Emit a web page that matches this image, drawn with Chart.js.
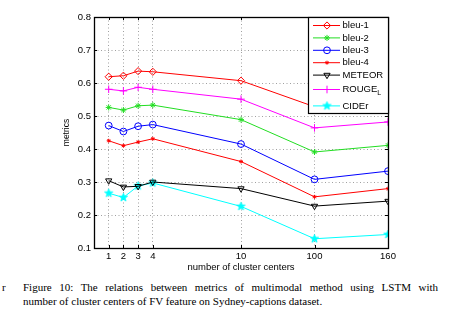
<!DOCTYPE html>
<html>
<head>
<meta charset="utf-8">
<script src="https://cdn.jsdelivr.net/npm/chart.js@4/dist/chart.umd.min.js"></script>
<style>
  html, body { margin: 0; padding: 0; background: #fff; width: 450px; height: 330px; overflow: hidden; }
  #wrap { position: absolute; left: 0; top: 0; width: 450px; height: 275px; }
  .cap { position: absolute; font-family: "Liberation Serif", "Times New Roman", serif; font-size: 11px; color: #000; white-space: nowrap; }
  #l1 { left: 23px; top: 281px; width: 415px; text-align: justify; text-align-last: justify; white-space: normal; }
  #l2 { left: 23px; top: 295px; }
  #frag { left: 2px; top: 281px; }
</style>
</head>
<body>
<div id="wrap"><canvas id="c" width="450" height="275"></canvas></div>
<div class="cap" id="frag">r</div>
<div class="cap" id="l1">Figure 10: The relations between metrics of multimodal method using LSTM with</div>
<div class="cap" id="l2">number of cluster centers of FV feature on Sydney-captions dataset.</div>
<script>
// ---- data ----
const clusterCenters = ["1", "2", "3", "4", "10", "100", "160"];   // tick labels
const axisSlots = [1, 2, 3, 4, 10, 15, 20];                           // where each label sits on the axis
const seriesNames = ["bleu-1", "bleu-2", "bleu-3", "bleu-4", "METEOR", "ROUGE_L", "CIDEr"];
const bleu1  = [0.619, 0.622, 0.636, 0.634, 0.607, 0.528, 0.531];
const bleu2  = [0.526, 0.518, 0.531, 0.533, 0.489, 0.391, 0.411];
const bleu3  = [0.471, 0.453, 0.469, 0.474, 0.415, 0.308, 0.333];
const bleu4  = [0.425, 0.410, 0.421, 0.431, 0.362, 0.255, 0.280];
const meteor = [0.304, 0.285, 0.287, 0.300, 0.280, 0.227, 0.242];
const rougeL = [0.581, 0.576, 0.587, 0.581, 0.551, 0.464, 0.482];
const cider  = [0.266, 0.253, 0.288, 0.297, 0.226, 0.128, 0.141];
const yTicks = [0.1, 0.2, 0.3, 0.4, 0.5, 0.6, 0.7, 0.8];

// pentagram marker
function makeStar(color, r) {
  const s = Math.ceil(r * 2 + 2);
  const cv = document.createElement('canvas');
  cv.width = s; cv.height = s;
  const g = cv.getContext('2d');
  g.beginPath();
  for (let i = 0; i < 10; i++) {
    const rad = (i % 2 === 0) ? r : r * 0.42;
    const a = -Math.PI / 2 + i * Math.PI / 5;
    const px = s / 2 + rad * Math.cos(a), py = s / 2 + rad * Math.sin(a);
    if (i === 0) g.moveTo(px, py); else g.lineTo(px, py);
  }
  g.closePath();
  g.fillStyle = color; g.fill();
  g.strokeStyle = color; g.lineWidth = 0.8; g.stroke();
  return cv;
}
const starImg = makeStar('#00ffff', 4.4);

const pts = arr => arr.map((v, i) => ({ x: axisSlots[i], y: v }));
const styles = [
  { c: '#ff0000', ps: 'rectRot', r: 3.6, fill: false, rot: 0 },
  { c: '#22dd22', ps: 'star', r: 3, fill: true, rot: 0 },
  { c: '#0000ff', ps: 'circle', r: 3.4, fill: false, rot: 0 },
  { c: '#ff0000', ps: 'star', r: 2, fill: true, rot: 0 },
  { c: '#000000', ps: 'triangle', r: 3.6, fill: false, rot: 180 },
  { c: '#ff00ff', ps: 'cross', r: 3.8, fill: false, rot: 0 },
  { c: '#00ffff', ps: starImg, r: 4.4, fill: true, rot: 0 }
];
const values = [bleu1, bleu2, bleu3, bleu4, meteor, rougeL, cider];
const datasets = values.map((arr, k) => ({
  label: seriesNames[k],
  data: pts(arr),
  borderColor: styles[k].c,
  backgroundColor: styles[k].c,
  borderWidth: 1,
  pointStyle: styles[k].ps,
  pointRadius: styles[k].r,
  pointHoverRadius: styles[k].r,
  pointRotation: styles[k].rot,
  pointBorderColor: styles[k].c,
  pointBackgroundColor: styles[k].fill ? styles[k].c : 'rgba(0,0,0,0)',
  pointBorderWidth: 1,
  tension: 0,
  fill: false
}));

const FONT = '"Liberation Sans", Arial, sans-serif';

const framePlugin = {
  id: 'frame',
  afterDatasetsDraw(chart) {
    const { ctx, chartArea: a, scales } = chart;
    ctx.save();
    // inward tick marks
    ctx.strokeStyle = '#000'; ctx.lineWidth = 1;
    ctx.beginPath();
    yTicks.forEach(v => {
      const y = Math.round(scales.y.getPixelForValue(v)) + 0.5;
      ctx.moveTo(a.left, y); ctx.lineTo(a.left + 3, y);
      ctx.moveTo(a.right, y); ctx.lineTo(a.right - 3, y);
    });
    axisSlots.forEach(v => {
      const x = Math.round(scales.x.getPixelForValue(v)) + 0.5;
      ctx.moveTo(x, a.bottom); ctx.lineTo(x, a.bottom - 3);
      ctx.moveTo(x, a.top); ctx.lineTo(x, a.top + 3);
    });
    ctx.stroke();
    // box
    ctx.lineWidth = 1.3;
    ctx.strokeRect(Math.round(a.left) + 0.5, Math.round(a.top) + 0.5, Math.round(a.right - a.left), Math.round(a.bottom - a.top));

    // legend
    const lx = 308, ly = 17, lw = 80, lh = 96;
    ctx.fillStyle = '#fff';
    ctx.fillRect(lx, ly, lw, lh);
    ctx.lineWidth = 1.2;
    ctx.strokeStyle = '#000';
    ctx.strokeRect(lx + 0.5, ly + 0.5, lw, lh);
    ctx.font = '9.5px ' + FONT;
    ctx.textBaseline = 'middle';
    ctx.textAlign = 'left';
    seriesNames.forEach((name, i) => {
      const y = 25.5 + i * 12.4 + (i >= 5 ? 2 : 0) + (i >= 6 ? 4 : 0);
      const st = styles[i];
      ctx.strokeStyle = st.c; ctx.lineWidth = 1;
      ctx.beginPath(); ctx.moveTo(313, y); ctx.lineTo(340, y); ctx.stroke();
      ctx.fillStyle = st.fill ? st.c : 'rgba(0,0,0,0)';
      Chart.helpers.drawPoint(ctx, { pointStyle: st.ps, radius: st.r, rotation: st.rot, borderWidth: 1 }, 327, y);
      ctx.fillStyle = '#000';
      if (name === 'ROUGE_L') {
        ctx.fillText('ROUGE', 342.5, y);
        const w = ctx.measureText('ROUGE').width;
        ctx.font = '7px ' + FONT;
        ctx.fillText('L', 342.5 + w, y + 4);
        ctx.font = '9.5px ' + FONT;
      } else {
        ctx.fillText(name, 342.5, y);
      }
    });
    ctx.restore();
  }
};

new Chart(document.getElementById('c'), {
  type: 'line',
  data: { datasets },
  plugins: [framePlugin],
  options: {
    responsive: false,
    animation: false,
    events: [],
    layout: { padding: { left: 60, right: 62, top: 17, bottom: 0 } },
    plugins: { legend: { display: false }, tooltip: { enabled: false } },
    scales: {
      x: {
        type: 'linear', min: 0, max: 20,
        afterBuildTicks: s => { s.ticks = axisSlots.map(v => ({ value: v })); },
        afterFit: s => { s.height = 27; },
        ticks: {
          autoSkip: false, maxRotation: 0, padding: 3, color: '#000',
          font: { family: FONT, size: 9.5 },
          callback: v => clusterCenters[axisSlots.indexOf(v)]
        },
        grid: { color: '#888', lineWidth: 0.8, drawTicks: false },
        border: { display: false, dash: [1, 2.5] },
        title: { display: true, text: 'number of cluster centers', color: '#000', font: { family: FONT, size: 9.5 }, padding: { top: 0, bottom: 2 } }
      },
      y: {
        min: 0.1, max: 0.8,
        afterBuildTicks: s => { s.ticks = yTicks.map(v => ({ value: v })); },
        afterFit: s => { s.width = 34; },
        ticks: {
          padding: 3, color: '#000',
          font: { family: FONT, size: 9.5 },
          callback: v => v.toFixed(1)
        },
        grid: { color: '#888', lineWidth: 0.8, drawTicks: false },
        border: { display: false, dash: [1, 2.5] },
        title: { display: true, text: 'metrics', color: '#000', font: { family: FONT, size: 8.5 }, padding: { top: 2, bottom: 0 } }
      }
    }
  }
});
</script>
</body>
</html>
